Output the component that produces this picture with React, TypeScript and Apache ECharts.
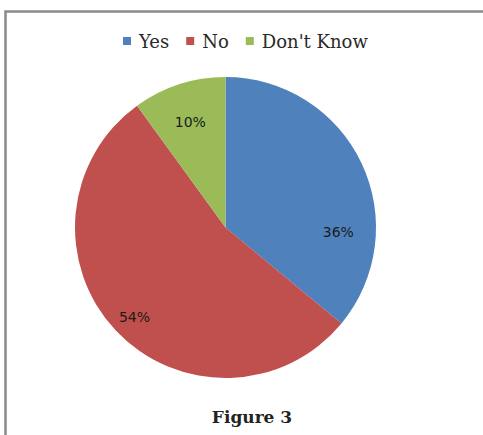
import React, { useEffect, useRef } from "react";
import * as echarts from "echarts";

const categories = ["Yes", "No", "Don't Know"];
const values = [36, 54, 10];
const colors = ["#4F81BD", "#C0504D", "#9BBB59"];
const figureCaption = "Figure 3";

// label nudges (pixels) to mimic the original label placement
const labelShift: [number, number][] = [
  [42, 38],
  [-34, 36],
  [-11, -31],
];

export default function App() {
  const ref = useRef<HTMLDivElement>(null);
  useEffect(() => {
    if (!ref.current) return;
    const chart = echarts.init(ref.current, undefined, { renderer: "svg" });
    chart.setOption({
      animation: false,
      backgroundColor: "#ffffff",
      title: {
        text: figureCaption,
        left: 247,
        top: 403,
        textAlign: "center",
        textStyle: {
          fontFamily: "DejaVu Serif",
          fontWeight: "bold",
          fontSize: 17,
          color: "#222222",
        },
      },
      legend: {
        data: categories,
        left: 118,
        top: 27,
        icon: "rect",
        itemWidth: 8,
        itemHeight: 8,
        itemGap: 17,
        selectedMode: false,
        textStyle: {
          fontFamily: "DejaVu Serif",
          fontSize: 18,
          color: "#2a2a2a",
          padding: [0, 0, 0, 3],
        },
      },
      graphic: [
        {
          type: "rect",
          shape: { x: 5.5, y: 11.5, width: 600, height: 600 },
          style: { fill: "none", stroke: "#8a8a8a", lineWidth: 2.5 },
          silent: true,
        },
      ],
      series: [
        {
          type: "pie",
          center: [225.5, 227.5],
          radius: 150.5,
          startAngle: 90,
          clockwise: true,
          silent: true,
          emphasis: { disabled: true },
          label: {
            show: true,
            position: "inside",
            formatter: "{c}%",
            fontFamily: "DejaVu Sans",
            fontSize: 14,
            color: "#1a1a1a",
          },
          labelLine: { show: false },
          labelLayout: (params: any) => {
            const s = labelShift[params.dataIndex] || [0, 0];
            return { dx: s[0], dy: s[1] };
          },
          data: categories.map((name, i) => ({
            name,
            value: values[i],
            itemStyle: { color: colors[i] },
          })),
        },
      ],
    });
    return () => chart.dispose();
  }, []);
  return (
    <div
      ref={ref}
      style={{ position: "fixed", left: 0, top: 0, width: 483, height: 435, background: "#fff" }}
    />
  );
}
